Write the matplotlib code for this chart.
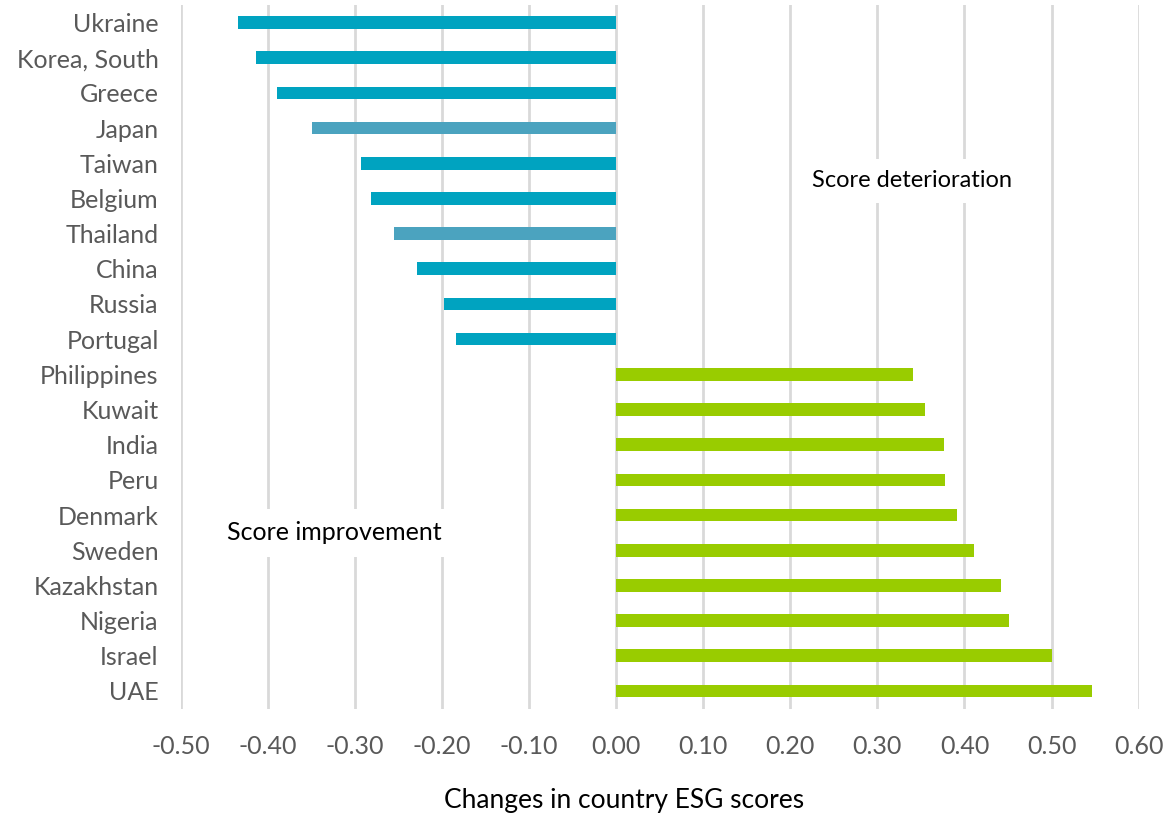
import matplotlib
matplotlib.use("Agg")
import matplotlib.pyplot as plt
import numpy as np

countries = ["Ukraine", "Korea, South", "Greece", "Japan", "Taiwan", "Belgium",
             "Thailand", "China", "Russia", "Portugal", "Philippines", "Kuwait",
             "India", "Peru", "Denmark", "Sweden", "Kazakhstan", "Nigeria",
             "Israel", "UAE"]
changes = [-0.435, -0.414, -0.390, -0.349, -0.293, -0.282, -0.255, -0.229,
           -0.198, -0.184, 0.341, 0.355, 0.376, 0.378, 0.391, 0.411, 0.442,
           0.451, 0.501, 0.547]
highlight = ["Japan", "Thailand"]
xticks = [-0.5, -0.4, -0.3, -0.2, -0.1, 0.0, 0.1, 0.2, 0.3, 0.4, 0.5, 0.6]

TEAL = "#00A3C0"
TEAL_LIGHT = "#4BA3BF"
GREEN = "#99CC00"

plt.rcParams['font.family'] = ['Lato', 'DejaVu Sans']

fig = plt.figure(figsize=(11.75, 8.21), dpi=100)
ax = fig.add_axes([0.154, 0.137, 0.815, 0.857])

colors = []
for c, v in zip(countries, changes):
    if v >= 0:
        colors.append(GREEN)
    elif c in highlight:
        colors.append(TEAL_LIGHT)
    else:
        colors.append(TEAL)

y = np.arange(len(countries))
ax.barh(y, changes, height=0.36, color=colors, zorder=3)
ax.set_ylim(len(countries) - 0.5, -0.5)
ax.set_xlim(-0.5, 0.6)
ax.set_yticks(y)
ax.set_yticklabels(countries, fontsize=18, color="#595959")
ax.set_xticks(xticks)
ax.set_xticklabels([f"{t:.2f}" for t in xticks], fontsize=18, color="#595959")
ax.tick_params(axis="both", length=0)
ax.tick_params(axis="x", pad=19)
ax.tick_params(axis="y", pad=16)
for s in ax.spines.values():
    s.set_visible(False)
ax.xaxis.grid(True, color="#D9D9D9", linewidth=2, zorder=0)
ax.set_axisbelow(True)

fig.text(624 / 1175, 1 - 800 / 821, "Changes in country ESG scores",
         fontsize=19, color="black", ha="center", va="center")

ax.text(0.34, 4.5, "Score deterioration", fontsize=17, color="black",
        ha="center", va="center", zorder=4,
        bbox=dict(boxstyle="square,pad=0.5", facecolor="white", edgecolor="none"))
ax.text(-0.324, 14.5, "Score improvement", fontsize=18, color="black",
        ha="center", va="center", zorder=4,
        bbox=dict(boxstyle="square,pad=0.5", facecolor="white", edgecolor="none"))

fig.savefig("out.png", dpi=100)
